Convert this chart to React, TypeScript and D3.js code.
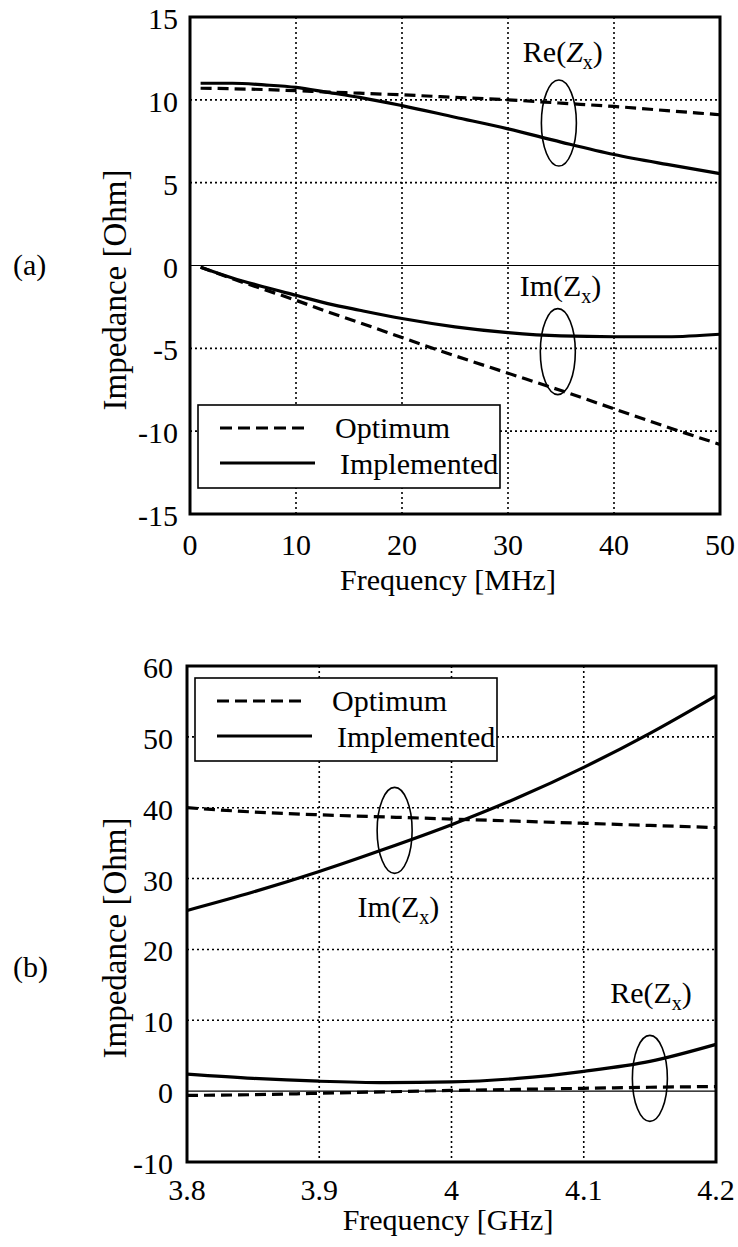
import React from "react";
import * as d3 from "d3";

// ---------- Data (a) ----------
const freqA = [1, 4, 7, 10, 13, 16, 20, 25, 30, 35, 40, 45, 50];
const reOptA = [10.7, 10.67, 10.62, 10.55, 10.47, 10.4, 10.3, 10.15, 10.0, 9.8, 9.6, 9.35, 9.1];
const reImplA = [11.0, 11.0, 10.9, 10.75, 10.45, 10.15, 9.65, 8.95, 8.25, 7.45, 6.7, 6.1, 5.55];
const imOptA = [-0.1, -0.8, -1.45, -2.1, -2.8, -3.45, -4.35, -5.45, -6.5, -7.55, -8.65, -9.75, -10.8];
const imImplA = [-0.1, -0.75, -1.3, -1.8, -2.3, -2.7, -3.2, -3.7, -4.05, -4.25, -4.3, -4.3, -4.15];
const xTicksA = [0, 10, 20, 30, 40, 50];
const yTicksA = [-15, -10, -5, 0, 5, 10, 15];

// ---------- Data (b) ----------
const freqB = [3.8, 3.85, 3.9, 3.95, 4.0, 4.05, 4.1, 4.15, 4.2];
const imOptB = [40.0, 39.4, 39.0, 38.7, 38.4, 38.1, 37.8, 37.5, 37.2];
const imImplB = [25.5, 28.1, 31.0, 34.2, 37.6, 41.4, 45.7, 50.5, 55.8];
const reOptB = [-0.6, -0.5, -0.3, -0.1, 0.1, 0.25, 0.4, 0.55, 0.65];
const reImplB = [2.4, 1.8, 1.4, 1.2, 1.3, 1.8, 2.8, 4.2, 6.6];
const xTicksB = [3.8, 3.9, 4.0, 4.1, 4.2];
const yTicksB = [-10, 0, 10, 20, 30, 40, 50, 60];

const legendLabels = ["Optimum", "Implemented"];
const FONT = "Liberation Serif, Tinos, DejaVu Serif, Times New Roman, serif";

type Series = { x: number[]; y: number[]; dashed: boolean };
type Note = { kind: "Re" | "Im"; tx: number; ty: number; ex: number; ey: number; italicZ?: boolean };

function Zlabel({ x, y, kind, italicZ }: { x: number; y: number; kind: string; italicZ?: boolean }) {
  return (
    <text x={x} y={y} fontSize={30} fill="#000">
      {kind}(
      <tspan fontStyle={italicZ ? "italic" : "normal"}>Z</tspan>
      <tspan fontSize={20} dy={7}>x</tspan>
      <tspan dy={-7}>)</tspan>
    </text>
  );
}

function Panel(props: {
  left: number; right: number; top: number; bottom: number;
  xDomain: [number, number]; yDomain: [number, number];
  xTicks: number[]; yTicks: number[]; xFmt: (v: number) => string;
  series: Series[]; notes: Note[];
  legendTop: number; xLabel: string; tag: string; tagY: number;
  yLabelCY: number; xLabelY: number; xTickDY: number; yTickGap: number;
}) {
  const { left, right, top, bottom } = props;
  const x = d3.scaleLinear().domain(props.xDomain).range([left, right]);
  const y = d3.scaleLinear().domain(props.yDomain).range([bottom, top]);
  const line = (s: Series) =>
    d3.line<number>().x((_, i) => x(s.x[i])).y((v) => y(v)).curve(d3.curveMonotoneX)(s.y) || "";
  const innerX = props.xTicks.slice(1, -1);
  const innerY = props.yTicks.filter((v, i) => i > 0 && i < props.yTicks.length - 1 && v !== 0);
  const lgL = left + 8;
  const lgT = props.legendTop;
  return (
    <g>
      {innerX.map((v) => (
        <line key={"gx" + v} x1={x(v)} x2={x(v)} y1={top} y2={bottom} stroke="#000" strokeWidth={1.6} strokeDasharray="2,3" />
      ))}
      {innerY.map((v) => (
        <line key={"gy" + v} x1={left} x2={right} y1={y(v)} y2={y(v)} stroke="#000" strokeWidth={1.6} strokeDasharray="2,3" />
      ))}
      <line x1={left} x2={right} y1={y(0)} y2={y(0)} stroke="#000" strokeWidth={1.2} />
      {props.series.map((s, i) => (
        <path key={"s" + i} d={line(s)} fill="none" stroke="#000" strokeWidth={3.2}
          strokeDasharray={s.dashed ? "11,6" : undefined} />
      ))}
      {props.notes.map((n, i) => (
        <g key={"n" + i}>
          <ellipse cx={x(n.ex)} cy={y(n.ey)} rx={17.5} ry={43} fill="none" stroke="#000" strokeWidth={1.6} />
          <Zlabel x={x(n.tx)} y={y(n.ty)} kind={n.kind} italicZ={n.italicZ} />
        </g>
      ))}
      <rect x={lgL} y={lgT} width={302} height={83} fill="#fff" stroke="#000" strokeWidth={1.6} />
      <line x1={lgL + 22} x2={lgL + 109} y1={lgT + 23} y2={lgT + 23} stroke="#000" strokeWidth={3.2} strokeDasharray="12,6" />
      <line x1={lgL + 22} x2={lgL + 117} y1={lgT + 58} y2={lgT + 58} stroke="#000" strokeWidth={3.2} />
      <text x={lgL + 137} y={lgT + 33} fontSize={30}>{legendLabels[0]}</text>
      <text x={lgL + 142} y={lgT + 69} fontSize={30}>{legendLabels[1]}</text>
      <rect x={left} y={top} width={right - left} height={bottom - top} fill="none" stroke="#000" strokeWidth={3} />
      {props.yTicks.map((v) => (
        <text key={"yt" + v} x={left - props.yTickGap} y={y(v) + 12} textAnchor="end" fontSize={30}>{v}</text>
      ))}
      {props.xTicks.map((v) => (
        <text key={"xt" + v} x={x(v)} y={bottom + props.xTickDY} textAnchor="middle" fontSize={30}>{props.xFmt(v)}</text>
      ))}
      <text x={448} y={props.xLabelY} textAnchor="middle" fontSize={30}>{props.xLabel}</text>
      <text transform={`translate(126,${props.yLabelCY}) rotate(-90)`} textAnchor="middle" fontSize={33}>Impedance [Ohm]</text>
      <text x={13} y={props.tagY} fontSize={30}>{props.tag}</text>
    </g>
  );
}

export default function App() {
  return (
    <svg width={738} height={1247} style={{ position: "absolute", left: 0, top: 0, background: "#fff", fontFamily: FONT }}>
      <rect width={738} height={1247} fill="#fff" />
      <Panel
        left={190} right={720} top={17} bottom={514}
        xDomain={[0, 50]} yDomain={[-15, 15]}
        xTicks={xTicksA} yTicks={yTicksA} xFmt={(v) => String(v)}
        series={[
          { x: freqA, y: reOptA, dashed: true },
          { x: freqA, y: reImplA, dashed: false },
          { x: freqA, y: imOptA, dashed: true },
          { x: freqA, y: imImplA, dashed: false },
        ]}
        notes={[
          { kind: "Re", tx: 31.4, ty: 12.28, ex: 34.8, ey: 8.6, italicZ: true },
          { kind: "Im", tx: 31.1, ty: -1.84, ex: 34.7, ey: -5.2 },
        ]}
        legendTop={405} xLabel="Frequency [MHz]" tag="(a)" tagY={275}
        yLabelCY={290} xLabelY={590} xTickDY={41} yTickGap={12}
      />
      <Panel
        left={187} right={716} top={666} bottom={1162}
        xDomain={[3.8, 4.2]} yDomain={[-10, 60]}
        xTicks={xTicksB} yTicks={yTicksB} xFmt={(v) => (v === 4 ? "4" : d3.format(".1f")(v))}
        series={[
          { x: freqB, y: imOptB, dashed: true },
          { x: freqB, y: imImplB, dashed: false },
          { x: freqB, y: reOptB, dashed: true },
          { x: freqB, y: reImplB, dashed: false },
        ]}
        notes={[
          { kind: "Im", tx: 3.929, ty: 24.6, ex: 3.957, ey: 36.8 },
          { kind: "Re", tx: 4.12, ty: 12.4, ex: 4.15, ey: 1.8 },
        ]}
        legendTop={678} xLabel="Frequency [GHz]" tag="(b)" tagY={977}
        yLabelCY={938} xLabelY={1230} xTickDY={38} yTickGap={14}
      />
    </svg>
  );
}
